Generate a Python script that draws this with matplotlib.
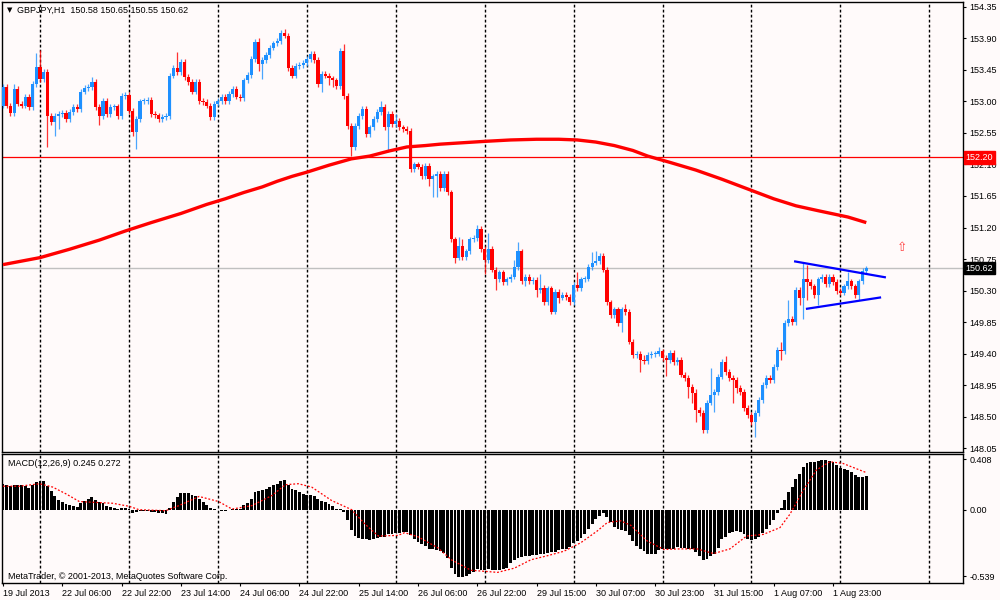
import numpy as np
import matplotlib
matplotlib.use("Agg")
import matplotlib.pyplot as plt
import matplotlib.transforms as mtrans

plt.rcParams['font.family'] = ['Liberation Sans', 'DejaVu Sans']

# ---- data (GBPJPY H1) ----
open0 = 152.94
closes = [
    153.21, 152.94, 152.83, 153.18, 152.97, 152.94, 153.07, 152.92, 153.25, 153.49,
    153.32, 153.42, 152.79, 152.71, 152.79, 152.82, 152.84, 152.75, 152.85, 152.92,
    152.89, 153.14, 153.19, 153.21, 153.28, 152.92, 152.79, 153.01, 152.82, 152.92,
    152.93, 152.79, 153.08, 153.09, 152.86, 152.56, 152.75, 153.00, 153.01, 153.02,
    152.82, 152.80, 152.75, 152.78, 152.79, 153.37, 153.48, 153.42, 153.57, 153.35,
    153.28, 153.14, 153.28, 153.01, 152.99, 152.94, 152.78, 152.97, 153.01, 153.07,
    153.01, 153.11, 153.18, 153.07, 153.05, 153.30, 153.38, 153.61, 153.85, 153.54,
    153.59, 153.66, 153.77, 153.83, 153.86, 153.98, 153.94, 153.48, 153.37, 153.51,
    153.52, 153.55, 153.61, 153.68, 153.59, 153.25, 153.39, 153.37, 153.33, 153.30,
    153.22, 153.72, 153.08, 152.65, 152.35, 152.65, 152.79, 152.89, 152.53, 152.63,
    152.75, 152.85, 152.92, 152.63, 152.82, 152.68, 152.72, 152.63, 152.61, 152.58,
    152.03, 152.10, 152.07, 151.93, 152.08, 151.89, 151.93, 151.96, 151.76, 151.96,
    151.70, 151.03, 150.77, 150.94, 150.78, 150.86, 151.03, 151.05, 151.18, 150.89,
    150.74, 150.89, 150.60, 150.46, 150.56, 150.42, 150.46, 150.50, 150.64, 150.86,
    150.43, 150.50, 150.43, 150.45, 150.31, 150.34, 150.14, 150.33, 150.00, 150.28,
    150.20, 150.24, 150.21, 150.14, 150.38, 150.33, 150.46, 150.47, 150.64, 150.70,
    150.72, 150.79, 150.60, 150.13, 149.95, 150.03, 149.84, 150.03, 149.99, 149.57,
    149.38, 149.39, 149.31, 149.29, 149.38, 149.39, 149.40, 149.43, 149.34, 149.31,
    149.41, 149.28, 149.31, 149.10, 149.05, 148.92, 148.84, 148.59, 148.55, 148.31,
    148.70, 148.81, 148.85, 149.07, 149.28, 149.14, 149.05, 149.02, 148.91, 148.85,
    148.62, 148.52, 148.42, 148.55, 148.74, 148.95, 149.05, 149.02, 149.21, 149.45,
    149.43, 149.84, 149.90, 149.85, 150.31, 150.20, 150.46, 150.42, 150.36, 150.24,
    150.46, 150.49, 150.39, 150.49, 150.42, 150.29, 150.27, 150.36, 150.43, 150.36,
    150.24, 150.43, 150.58, 150.62,
]
# wick length above / below the body
wick_up = [
    0.04, 0.04, 0.04, 0.07, 0.04, 0.04, 0.04, 0.04, 0.04, 0.20,
    0.25, 0.04, 0.04, 0.04, 0.04, 0.04, 0.04, 0.04, 0.04, 0.04,
    0.04, 0.04, 0.04, 0.04, 0.07, 0.04, 0.04, 0.04, 0.04, 0.04,
    0.04, 0.04, 0.04, 0.04, 0.04, 0.04, 0.04, 0.04, 0.04, 0.04,
    0.04, 0.04, 0.04, 0.04, 0.04, 0.04, 0.04, 0.22, 0.04, 0.04,
    0.04, 0.04, 0.04, 0.04, 0.04, 0.04, 0.04, 0.04, 0.04, 0.04,
    0.04, 0.04, 0.04, 0.04, 0.04, 0.04, 0.04, 0.04, 0.04, 0.05,
    0.04, 0.04, 0.04, 0.04, 0.04, 0.04, 0.05, 0.04, 0.04, 0.04,
    0.04, 0.04, 0.04, 0.04, 0.04, 0.04, 0.04, 0.04, 0.04, 0.04,
    0.04, 0.04, 0.10, 0.04, 0.04, 0.04, 0.04, 0.04, 0.04, 0.04,
    0.04, 0.04, 0.08, 0.04, 0.04, 0.04, 0.10, 0.04, 0.04, 0.04,
    0.04, 0.04, 0.04, 0.04, 0.04, 0.04, 0.04, 0.04, 0.04, 0.04,
    0.04, 0.04, 0.04, 0.12, 0.10, 0.04, 0.04, 0.04, 0.05, 0.04,
    0.04, 0.23, 0.04, 0.04, 0.04, 0.04, 0.04, 0.04, 0.10, 0.14,
    0.04, 0.04, 0.04, 0.04, 0.04, 0.20, 0.04, 0.04, 0.04, 0.04,
    0.04, 0.04, 0.04, 0.04, 0.04, 0.19, 0.04, 0.04, 0.04, 0.15,
    0.14, 0.04, 0.04, 0.04, 0.04, 0.04, 0.04, 0.04, 0.08, 0.04,
    0.04, 0.04, 0.04, 0.07, 0.04, 0.04, 0.04, 0.07, 0.04, 0.04,
    0.04, 0.04, 0.04, 0.04, 0.04, 0.04, 0.04, 0.06, 0.04, 0.04,
    0.04, 0.39, 0.04, 0.04, 0.04, 0.09, 0.04, 0.04, 0.04, 0.04,
    0.04, 0.04, 0.04, 0.04, 0.04, 0.04, 0.04, 0.04, 0.04, 0.04,
    0.12, 0.04, 0.27, 0.04, 0.04, 0.04, 0.24, 0.20, 0.04, 0.04,
    0.04, 0.04, 0.04, 0.04, 0.04, 0.04, 0.04, 0.04, 0.14, 0.04,
    0.04, 0.04, 0.04, 0.03,
]
wick_dn = [
    0.04, 0.04, 0.04, 0.04, 0.04, 0.04, 0.04, 0.04, 0.04, 0.04,
    0.04, 0.04, 0.44, 0.04, 0.20, 0.18, 0.04, 0.04, 0.04, 0.04,
    0.04, 0.04, 0.04, 0.04, 0.04, 0.04, 0.13, 0.04, 0.04, 0.04,
    0.04, 0.04, 0.04, 0.04, 0.04, 0.05, 0.24, 0.04, 0.04, 0.04,
    0.04, 0.04, 0.04, 0.04, 0.04, 0.04, 0.04, 0.04, 0.04, 0.04,
    0.04, 0.04, 0.04, 0.04, 0.04, 0.04, 0.04, 0.04, 0.04, 0.04,
    0.04, 0.04, 0.04, 0.04, 0.04, 0.04, 0.04, 0.04, 0.04, 0.10,
    0.22, 0.04, 0.04, 0.04, 0.04, 0.04, 0.04, 0.04, 0.04, 0.04,
    0.04, 0.04, 0.04, 0.04, 0.04, 0.04, 0.11, 0.04, 0.10, 0.10,
    0.04, 0.04, 0.04, 0.04, 0.13, 0.04, 0.04, 0.04, 0.04, 0.04,
    0.04, 0.04, 0.04, 0.04, 0.35, 0.04, 0.04, 0.04, 0.04, 0.04,
    0.04, 0.04, 0.04, 0.04, 0.04, 0.10, 0.25, 0.30, 0.04, 0.04,
    0.04, 0.04, 0.07, 0.04, 0.04, 0.04, 0.04, 0.04, 0.04, 0.04,
    0.21, 0.04, 0.04, 0.15, 0.04, 0.04, 0.04, 0.04, 0.04, 0.04,
    0.04, 0.07, 0.04, 0.04, 0.10, 0.04, 0.04, 0.04, 0.04, 0.04,
    0.08, 0.04, 0.04, 0.04, 0.04, 0.04, 0.04, 0.04, 0.04, 0.04,
    0.04, 0.04, 0.04, 0.04, 0.04, 0.04, 0.04, 0.13, 0.04, 0.04,
    0.04, 0.04, 0.17, 0.04, 0.04, 0.04, 0.04, 0.04, 0.04, 0.23,
    0.04, 0.04, 0.04, 0.04, 0.04, 0.15, 0.15, 0.17, 0.04, 0.04,
    0.04, 0.04, 0.25, 0.04, 0.04, 0.04, 0.04, 0.33, 0.08, 0.04,
    0.04, 0.04, 0.04, 0.21, 0.04, 0.04, 0.04, 0.04, 0.04, 0.04,
    0.12, 0.04, 0.04, 0.04, 0.04, 0.10, 0.30, 0.25, 0.04, 0.04,
    0.14, 0.04, 0.04, 0.04, 0.04, 0.04, 0.04, 0.04, 0.04, 0.04,
    0.04, 0.07, 0.04, 0.03,
]

# moving average (red thick line), vertices read at bar positions
ma_bars = [0, 10, 18, 26, 33, 40, 48, 55, 60, 65, 70, 74, 78, 82, 88, 94, 99, 104,
           109, 114, 118, 124, 130, 137, 144, 150, 155, 160, 165, 170, 174, 180,
           187, 194, 201, 208, 214, 220, 228, 233]
ma_vals = [150.67, 150.77, 150.89, 151.02, 151.15, 151.27, 151.40, 151.53, 151.61,
           151.70, 151.78, 151.86, 151.93, 151.99, 152.09, 152.18, 152.22, 152.29,
           152.35, 152.37, 152.39, 152.41, 152.43, 152.45, 152.46, 152.46, 152.45,
           152.42, 152.37, 152.30, 152.22, 152.13, 152.02, 151.89, 151.75, 151.61,
           151.51, 151.44, 151.35, 151.27]

# MACD(12,26,9) histogram and signal line
macd = [
    0.21, 0.197, 0.19, 0.197, 0.197, 0.197, 0.19, 0.175, 0.197, 0.224,
    0.232, 0.232, 0.19, 0.148, 0.109, 0.082, 0.066, 0.046, 0.038, 0.027,
    0.019, 0.055, 0.074, 0.087, 0.101, 0.079, 0.06, 0.052, 0.033, 0.019,
    0.014, 0.005, 0.011, 0.014, 0.004, -0.027, -0.016, -0.008, -0.008, -0.011,
    -0.016, -0.022, -0.027, -0.027, -0.035, 0.011, 0.06, 0.101, 0.137, 0.137,
    0.134, 0.115, 0.107, 0.087, 0.06, 0.038, 0.011, 0.002, -0.003, -0.011,
    -0.011, -0.005, 0.005, 0.005, 0.005, 0.038, 0.055, 0.087, 0.142, 0.15,
    0.156, 0.164, 0.183, 0.197, 0.21, 0.232, 0.243, 0.202, 0.169, 0.156,
    0.142, 0.128, 0.115, 0.115, 0.109, 0.087, 0.074, 0.06, 0.046, 0.033,
    0.005, 0.003, -0.022, -0.085, -0.167, -0.213, -0.227, -0.235, -0.24, -0.246,
    -0.24, -0.227, -0.219, -0.219, -0.2, -0.194, -0.191, -0.186, -0.18, -0.18,
    -0.205, -0.24, -0.262, -0.276, -0.295, -0.314, -0.322, -0.33, -0.336, -0.35,
    -0.39, -0.473, -0.52, -0.541, -0.541, -0.536, -0.52, -0.5, -0.48, -0.49,
    -0.49, -0.478, -0.486, -0.49, -0.49, -0.48, -0.473, -0.43, -0.405, -0.39,
    -0.383, -0.377, -0.372, -0.366, -0.366, -0.36, -0.355, -0.35, -0.344, -0.339,
    -0.328, -0.322, -0.314, -0.3, -0.273, -0.254, -0.227, -0.2, -0.158, -0.117,
    -0.077, -0.049, -0.03, -0.063, -0.098, -0.137, -0.158, -0.164, -0.172, -0.208,
    -0.254, -0.29, -0.317, -0.336, -0.355, -0.355, -0.355, -0.328, -0.322, -0.322,
    -0.317, -0.317, -0.3, -0.309, -0.311, -0.317, -0.322, -0.344, -0.372, -0.405,
    -0.399, -0.377, -0.355, -0.309, -0.24, -0.219, -0.186, -0.18, -0.175, -0.18,
    -0.2, -0.235, -0.246, -0.24, -0.219, -0.186, -0.158, -0.126, -0.082, -0.027,
    0.011, 0.082, 0.142, 0.183, 0.251, 0.292, 0.347, 0.374, 0.382, 0.388,
    0.396, 0.402, 0.402, 0.396, 0.382, 0.36, 0.339, 0.328, 0.32, 0.306,
    0.279, 0.265, 0.265, 0.273,
]
sig_bars = [0, 4.5, 9.9, 13.4, 17, 20.6, 24.2, 29.6, 34.1, 36.7, 43.9, 47.5, 52.9,
            58.2, 61.8, 67.2, 72.6, 76.2, 79.7, 83.3, 88.7, 94.1, 97.7, 101.3, 106.6,
            108.4, 112, 117.4, 121, 126.3, 133.5, 138, 142.5, 147, 151.4, 155.9,
            160.4, 163.1, 166.7, 169.4, 173.9, 178.4, 182.8, 187.3, 191.8, 196.2,
            200.7, 205.2, 209.7, 212.4, 216, 219.5, 223.1, 226.7, 233]
sig_vals = [0.19, 0.19, 0.21, 0.183, 0.128, 0.066, 0.06, 0.052, 0.027, 0.0, -0.008,
            0.033, 0.107, 0.066, 0.005, 0.033, 0.115, 0.202, 0.21, 0.183, 0.074, 0.0,
            -0.117, -0.213, -0.208, -0.186, -0.219, -0.309, -0.405, -0.49, -0.507,
            -0.473, -0.405, -0.372, -0.336, -0.268, -0.172, -0.104, -0.09, -0.126,
            -0.254, -0.322, -0.317, -0.317, -0.355, -0.317, -0.213, -0.2, -0.145,
            -0.036, 0.156, 0.32, 0.388, 0.374, 0.30]

# triangle trendlines drawn on the chart
tri_upper_bars = [213.8, 238.0]
tri_upper_vals = [150.715, 150.49]
tri_lower_bars = [217.0, 236.7]
tri_lower_vals = [150.04, 150.20]

price_ticks = [154.35, 153.90, 153.45, 153.00, 152.55, 152.10, 151.65, 151.20,
               150.75, 150.30, 149.85, 149.40, 148.95, 148.50, 148.05]
time_labels = ["19 Jul 2013", "22 Jul 06:00", "22 Jul 22:00", "23 Jul 14:00",
               "24 Jul 06:00", "24 Jul 22:00", "25 Jul 14:00", "26 Jul 06:00",
               "26 Jul 22:00", "29 Jul 15:00", "30 Jul 07:00", "30 Jul 23:00",
               "31 Jul 15:00", "1 Aug 07:00", "1 Aug 23:00"]
time_label_bars = list(range(0, 225, 16))
grid_bars = list(range(10, 251, 24))

# ---- build candles ----
c = np.array(closes)
o = np.array([open0] + closes[:-1])
hi = np.maximum(o, c) + np.array(wick_up)
lo = np.minimum(o, c) - np.array(wick_dn)
x = np.arange(len(c))
up = c >= o
BLUE = '#1E90FF'
RED = '#FF0000'
BG = '#FFFAFA'
FS = 6.5

fig = plt.figure(figsize=(10, 6), dpi=100, facecolor=BG)
ax1 = fig.add_axes([0.002, 1 - 452.3 / 600, 0.961, 450.3 / 600], facecolor=BG)
ax2 = fig.add_axes([0.002, 1 - 583 / 600, 0.961, 128.7 / 600], facecolor=BG)

xlim = (-0.27, 259.1)
for ax in (ax1, ax2):
    ax.set_xlim(*xlim)
    for gb in grid_bars:
        ax.axvline(gb, color='black', lw=1, ls=(0, (2, 1.6)), zorder=1)
    for s in ax.spines.values():
        s.set_color('black')
        s.set_linewidth(1)

# main panel
ax1.set_ylim(147.99, 154.42)
cols = np.where(up, BLUE, RED)
ax1.vlines(x, lo, hi, colors=cols, lw=0.9, alpha=0.8, zorder=3)
body_h = np.maximum(np.abs(c - o), 0.014)
ax1.bar(x, body_h, bottom=np.minimum(o, c), width=0.86, color=cols, lw=0, zorder=4)

ax1.plot(ma_bars, ma_vals, color=RED, lw=2.4, solid_capstyle='butt',
         solid_joinstyle='round', zorder=5)
ax1.axhline(152.20, color=RED, lw=0.9, zorder=2)
ax1.axhline(150.62, color='#C0C0C0', lw=1, zorder=2)
ax1.plot(tri_upper_bars, tri_upper_vals, color='#0000FF', lw=1.6, zorder=6)
ax1.plot(tri_lower_bars, tri_lower_vals, color='#0000FF', lw=1.6, zorder=6)
ax1.text(242.6, 150.92, '\u21e7', color='#FF4040', fontsize=9, ha='center',
         va='center', family=['DejaVu Sans'], zorder=6)

ax1.yaxis.tick_right()
ax1.set_yticks(price_ticks)
ax1.set_yticklabels([f"{p:.2f}" for p in price_ticks])
ax1.tick_params(axis='y', length=2.5, pad=2, labelsize=FS, colors='black')
ax1.set_xticks([])

tr = mtrans.blended_transform_factory(ax1.transAxes, ax1.transData)
ax1.text(1.0025, 152.20, "152.20", transform=tr, color='white', fontsize=FS,
         va='center', ha='left', zorder=10,
         bbox=dict(boxstyle='square,pad=0.2', fc=RED, ec=RED))
ax1.text(1.0025, 150.62, "150.62", transform=tr, color='white', fontsize=FS,
         va='center', ha='left', zorder=10,
         bbox=dict(boxstyle='square,pad=0.2', fc='black', ec='black'))

fig.text(7 / 1000, 1 - 10 / 600, '\u25bc', fontsize=5, va='center', ha='left',
         family=['DejaVu Sans'])
fig.text(17 / 1000, 1 - 10 / 600, 'GBPJPY,H1  150.58 150.65 150.55 150.62',
         fontsize=FS, va='center', ha='left')

# MACD panel
ax2.set_ylim(-0.593, 0.448)
ax2.bar(x, macd, width=0.78, color='black', lw=0, zorder=3)
ax2.plot(sig_bars, sig_vals, color=RED, lw=0.9, ls=(0, (1.5, 1.5)), zorder=4)
ax2.yaxis.tick_right()
ax2.set_yticks([0.408, 0.0, -0.539])
ax2.set_yticklabels(['0.408', '0.00', '-0.539'])
ax2.tick_params(axis='y', length=2.5, pad=2, labelsize=FS, colors='black')
ax2.set_xticks(time_label_bars)
ax2.set_xticklabels(time_labels, ha='left')
ax2.tick_params(axis='x', length=2.5, pad=1.5, labelsize=FS, colors='black')
ax2.text(0.006, 0.93, 'MACD(12,26,9) 0.245 0.272', transform=ax2.transAxes,
         fontsize=FS, va='center', ha='left')
ax2.text(0.006, 0.05, 'MetaTrader, \u00a9 2001-2013, MetaQuotes Software Corp.',
         transform=ax2.transAxes, fontsize=FS, va='center', ha='left')

fig.savefig('out.png', dpi=100, facecolor=BG)
